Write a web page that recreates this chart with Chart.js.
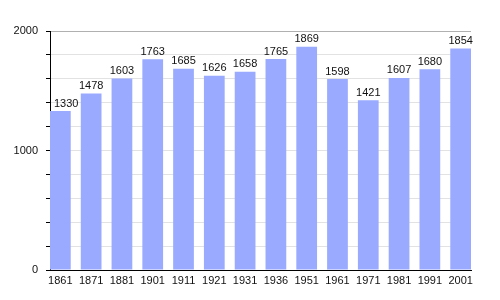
<!DOCTYPE html>
<html>
<head>
<meta charset="utf-8">
<script src="https://cdn.jsdelivr.net/npm/chart.js@4"></script>
<style>
html,body{margin:0;padding:0;background:#fff;}
#wrap{width:500px;height:300px;}
</style>
</head>
<body>
<div id="wrap"><canvas id="c" width="500" height="300"></canvas></div>
<script>
const categories = ['1861','1871','1881','1901','1911','1921','1931','1936','1951','1961','1971','1981','1991','2001'];
const population = [1330,1478,1603,1763,1685,1626,1658,1765,1869,1598,1421,1607,1680,1854];
const yLabelledTicks = [0,1000,2000];

const FONT = "'Liberation Sans', Arial, sans-serif";

const valueLabels = {
  id: 'valueLabels',
  afterDatasetsDraw(chart) {
    const ctx = chart.ctx;
    const meta = chart.getDatasetMeta(0);
    const area = chart.chartArea;
    ctx.save();
    ctx.font = '11px ' + FONT;
    ctx.fillStyle = '#111';
    ctx.textAlign = 'center';
    ctx.textBaseline = 'bottom';
    meta.data.forEach((el, i) => {
      const txt = String(population[i]);
      const w = ctx.measureText(txt).width;
      const x = Math.max(el.x, area.left + 4 + w / 2);
      ctx.fillText(txt, x, el.y - 2);
    });
    ctx.restore();
  }
};

new Chart(document.getElementById('c'), {
  type: 'bar',
  data: {
    datasets: [{
      data: population.map((v, i) => ({x: i, y: v})),
      backgroundColor: '#99aaff',
      borderWidth: 0,
      categoryPercentage: 1,
      barPercentage: 0.673
    }]
  },
  options: {
    responsive: false,
    animation: false,
    events: [],
    layout: {padding: {top: 31, right: 29, bottom: 0, left: 0}},
    plugins: {legend: {display: false}, tooltip: {enabled: false}},
    scales: {
      x: {
        type: 'linear',
        offset: false,
        min: -0.336,
        max: 13.336,
        afterBuildTicks: s => { s.ticks = categories.map((c, i) => ({value: i})); },
        afterFit: s => { s.height = 30; },
        grid: {display: true, offset: false, drawOnChartArea: false, drawTicks: false},
        border: {display: true, color: '#000', width: 1},
        ticks: {
          autoSkip: false, maxRotation: 0, padding: 4,
          color: '#111', font: {family: FONT, size: 11},
          callback: v => categories[v] ?? ''
        }
      },
      y: {
        min: 0,
        max: 2000,
        afterFit: s => { s.width = 50; },
        grid: {
          color: c => (c.tick && c.tick.value === 2000) ? '#b0b0b0' : '#e2e2e2',
          tickColor: '#000',
          tickLength: 4
        },
        border: {display: true, color: '#000', width: 1},
        ticks: {
          stepSize: 200,
          padding: 8,
          color: '#111', font: {family: FONT, size: 11},
          callback: v => yLabelledTicks.includes(v) ? String(v) : ''
        }
      }
    }
  },
  plugins: [valueLabels]
});
</script>
</body>
</html>
